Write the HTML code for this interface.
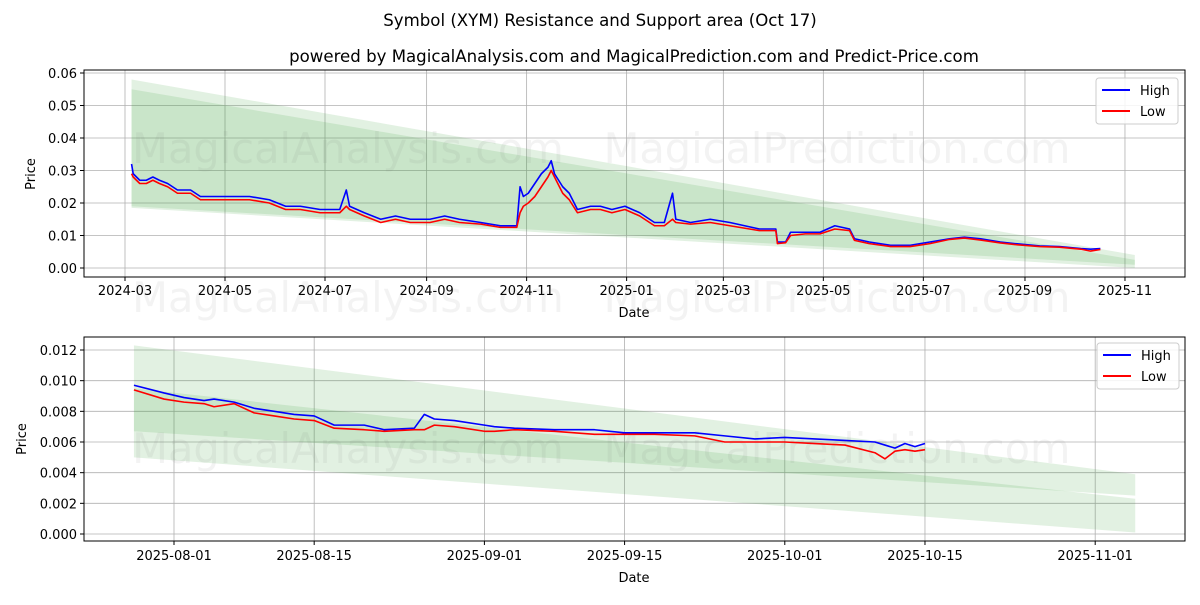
<!DOCTYPE html>
<html><head><meta charset="utf-8"><style>
body{margin:0;background:#fff;font-family:"Liberation Sans","DejaVu Sans",sans-serif}
svg text{font-family:"DejaVu Sans","Liberation Sans",sans-serif}
</style></head><body>
<svg id="fig" width="1200" height="600" xmlns="http://www.w3.org/2000/svg">
<text x="600" y="26" text-anchor="middle" font-size="16.6">Symbol (XYM) Resistance and Support area (Oct 17)</text>
<text x="634" y="62" text-anchor="middle" font-size="16.6">powered by MagicalAnalysis.com and MagicalPrediction.com and Predict-Price.com</text>
</svg>
<script>
// ---- top chart data (days since 2024-03-01) ----
const topDays=[4,5,9,13,17,21,26,32,40,46,55,64,76,88,98,107,119,131,135,137,146,156,165,174,186,195,204,217,229,239,241,243,246,250,254,258,260,262,267,271,276,284,290,297,305,314,323,329,334,336,345,357,369,387,397,398,403,406,415,424,433,442,445,454,467,479,491,503,512,522,534,543,558,570,583,589,595];
const topHigh=[.032,.029,.027,.027,.028,.027,.026,.024,.024,.022,.022,.022,.022,.021,.019,.019,.018,.018,.024,.019,.017,.015,.016,.015,.015,.016,.015,.014,.013,.013,.025,.022,.023,.026,.029,.031,.033,.029,.025,.023,.018,.019,.019,.018,.019,.017,.014,.014,.023,.015,.014,.015,.014,.012,.012,.008,.008,.011,.011,.011,.013,.012,.009,.008,.007,.007,.008,.009,.0095,.009,.008,.0075,.0068,.0066,.006,.0058,.006];
const topLow=[.029,.028,.026,.026,.027,.026,.025,.023,.023,.021,.021,.021,.021,.020,.018,.018,.017,.017,.019,.018,.016,.014,.015,.014,.014,.015,.014,.0135,.0125,.0125,.017,.019,.020,.022,.025,.028,.030,.028,.023,.021,.017,.018,.018,.017,.018,.016,.013,.013,.015,.014,.0135,.014,.013,.0115,.0115,.0075,.0078,.010,.0105,.0105,.012,.0115,.0085,.0075,.0066,.0066,.0075,.0088,.0092,.0086,.0077,.0072,.0066,.0064,.0058,.0052,.0057];
const topTickLabels=["2024-03","2024-05","2024-07","2024-09","2024-11","2025-01","2025-03","2025-05","2025-07","2025-09","2025-11"];
const topTickDays=[0,61,122,184,245,306,365,426,487,549,610];
const topYTicks=[0,0.01,0.02,0.03,0.04,0.05,0.06];
const topBandA=[4,616,0.058,0.004,0.019,0.001];
const topBandB=[4,616,0.055,0.0025,0.0185,0.0];
// ---- bottom chart data ----
const botDates=["2025-07-28","2025-07-31","2025-08-02","2025-08-04","2025-08-05","2025-08-07","2025-08-09","2025-08-11","2025-08-13","2025-08-15","2025-08-17","2025-08-20","2025-08-22","2025-08-25","2025-08-26","2025-08-27","2025-08-29","2025-09-01","2025-09-02","2025-09-04","2025-09-08","2025-09-12","2025-09-15","2025-09-18","2025-09-22","2025-09-25","2025-09-28","2025-10-01","2025-10-04","2025-10-07","2025-10-10","2025-10-11","2025-10-12","2025-10-13","2025-10-14","2025-10-15"];
const botHigh=[.0097,.0092,.0089,.0087,.0088,.0086,.0082,.0080,.0078,.0077,.0071,.0071,.0068,.0069,.0078,.0075,.0074,.0071,.0070,.0069,.0068,.0068,.0066,.0066,.0066,.0064,.0062,.0063,.0062,.0061,.0060,.0058,.0056,.0059,.0057,.0059];
const botLow=[.0094,.0088,.0086,.0085,.0083,.0085,.0079,.0077,.0075,.0074,.0069,.0068,.0067,.0068,.0068,.0071,.0070,.0067,.0067,.0068,.0067,.0065,.0065,.0065,.0064,.0060,.0060,.0060,.0059,.0058,.0053,.0049,.0054,.0055,.0054,.0055];
const botTickLabels=["2025-08-01","2025-08-15","2025-09-01","2025-09-15","2025-10-01","2025-10-15","2025-11-01"];
const botYTicks=[0,0.002,0.004,0.006,0.008,0.010,0.012];
const botBandA=["2025-07-28","2025-11-05",0.0123,0.0039,0.0067,0.0025];
const botBandB=["2025-07-28","2025-11-05",0.0095,0.0023,0.0050,0.0001];

const NS="http://www.w3.org/2000/svg",svg=document.getElementById('fig');
function mk(t,a,p){const e=document.createElementNS(NS,t);for(const k in a)e.setAttribute(k,a[k]);(p||svg).appendChild(e);return e;}
const dayMs=86400000,b0=Date.UTC(2025,7,1);
function bd(s){const p=s.split('-');return (Date.UTC(+p[0],+p[1]-1,+p[2])-b0)/dayMs;}
const xT=d=>125+d*1.6393, yT=v=>268-v*3250;
const xB=s=>174+bd(s)*10.013, yB=v=>534-v*15333;

function axes(L,T,R,B,name){
  const f=mk('rect',{x:L,y:T,width:R-L,height:B-T,fill:'#fff'});
  
}
function frame(L,T,R,B,name){const f=mk('rect',{x:L,y:T,width:R-L,height:B-T,fill:'none',stroke:'#000','stroke-width':1});
  }
function band(xs,x1,x2,y,vals,name){
  const p=mk('polygon',{points:`${x1},${y(vals[2])} ${x2},${y(vals[3])} ${x2},${y(vals[5])} ${x1},${y(vals[4])}`,fill:'rgba(60,160,60,0.15)'});
  
}
function line(pts,color,name){
  const p=mk('polyline',{points:pts.map(q=>q.join(',')).join(' '),fill:'none',stroke:color,'stroke-width':1.6,'stroke-linejoin':'round'});
  
}
function txt(x,y,s,attrs,name){const t=mk('text',Object.assign({x:x,y:y,'font-size':13},attrs||{}));t.textContent=s;
  return t;}
function wm(x,y,s){const t=mk('text',{x:x,y:y,'font-size':41.5,fill:'rgba(120,120,120,0.09)','text-anchor':'middle'});t.textContent=s;
  }
function legend(x,y,name){
  const g=mk('g',{});
  mk('rect',{x:x,y:y,width:82,height:46,rx:3,fill:'rgba(255,255,255,0.85)',stroke:'#ccc'},g);
  const l1=mk('line',{x1:x+6,y1:y+12,x2:x+34,y2:y+12,stroke:'#0000ff','stroke-width':2},g);
  
  const l2=mk('line',{x1:x+6,y1:y+33,x2:x+34,y2:y+33,stroke:'#ff0000','stroke-width':2},g);
  
  const t1=mk('text',{x:x+44,y:y+17,'font-size':13},g);t1.textContent='High';
  
  const t2=mk('text',{x:x+44,y:y+38,'font-size':13},g);t2.textContent='Low';
  
}

// TOP
axes(84,70,1185,277,'top');
topTickDays.forEach((d,i)=>{const x=xT(d);
  const g=mk('line',{x1:x,y1:70,x2:x,y2:277,stroke:'#b0b0b0','stroke-width':0.8});
  
  mk('line',{x1:x,y1:277,x2:x,y2:281,stroke:'#000'});
  txt(x,295,topTickLabels[i],{'text-anchor':'middle'},'top-x-tick-label');});
topYTicks.forEach(v=>{const y=yT(v);
  const g=mk('line',{x1:84,y1:y,x2:1185,y2:y,stroke:'#b0b0b0','stroke-width':0.8});
  
  mk('line',{x1:80,y1:y,x2:84,y2:y,stroke:'#000'});
  txt(77,y+5,v.toFixed(2),{'text-anchor':'end'},'top-y-tick-label');});
band(0,xT(topBandA[0]),xT(topBandA[1]),yT,topBandA,'top-band-resistance');
band(0,xT(topBandB[0]),xT(topBandB[1]),yT,topBandB,'top-band-support');
wm(348,163,'MagicalAnalysis.com');wm(837,163,'MagicalPrediction.com');
line(topDays.map((d,i)=>[xT(d),yT(topHigh[i])]),'#0000ff','top-high-line');
line(topDays.map((d,i)=>[xT(d),yT(topLow[i])]),'#ff0000','top-low-line');
frame(84,70,1185,277,'top');
legend(1096,78,'top-legend');
txt(634,317,'Date',{'text-anchor':'middle'},'top-x-axis-title');
txt(35,174,'Price',{'text-anchor':'middle',transform:'rotate(-90 35 174)'},'top-y-axis-title');
wm(348,312,'MagicalAnalysis.com');wm(837,312,'MagicalPrediction.com');

// BOTTOM
axes(84,337,1185,541,'bottom');
botTickLabels.forEach(s=>{const x=xB(s);
  const g=mk('line',{x1:x,y1:337,x2:x,y2:541,stroke:'#b0b0b0','stroke-width':0.8});
  
  mk('line',{x1:x,y1:541,x2:x,y2:545,stroke:'#000'});
  txt(x,560,s,{'text-anchor':'middle'},'bottom-x-tick-label');});
botYTicks.forEach(v=>{const y=yB(v);
  const g=mk('line',{x1:84,y1:y,x2:1185,y2:y,stroke:'#b0b0b0','stroke-width':0.8});
  
  mk('line',{x1:80,y1:y,x2:84,y2:y,stroke:'#000'});
  txt(77,y+5,v.toFixed(3),{'text-anchor':'end'},'bottom-y-tick-label');});
band(0,xB(botBandA[0]),xB(botBandA[1]),yB,botBandA,'bottom-band-resistance');
band(0,xB(botBandB[0]),xB(botBandB[1]),yB,botBandB,'bottom-band-support');
wm(348,463,'MagicalAnalysis.com');wm(837,463,'MagicalPrediction.com');
line(botDates.map((s,i)=>[xB(s),yB(botHigh[i])]),'#0000ff','bottom-high-line');
line(botDates.map((s,i)=>[xB(s),yB(botLow[i])]),'#ff0000','bottom-low-line');
frame(84,337,1185,541,'bottom');
legend(1097,343,'bottom-legend');
txt(634,582,'Date',{'text-anchor':'middle'},'bottom-x-axis-title');
txt(26,439,'Price',{'text-anchor':'middle',transform:'rotate(-90 26 439)'},'bottom-y-axis-title');
</script>
</body></html>
